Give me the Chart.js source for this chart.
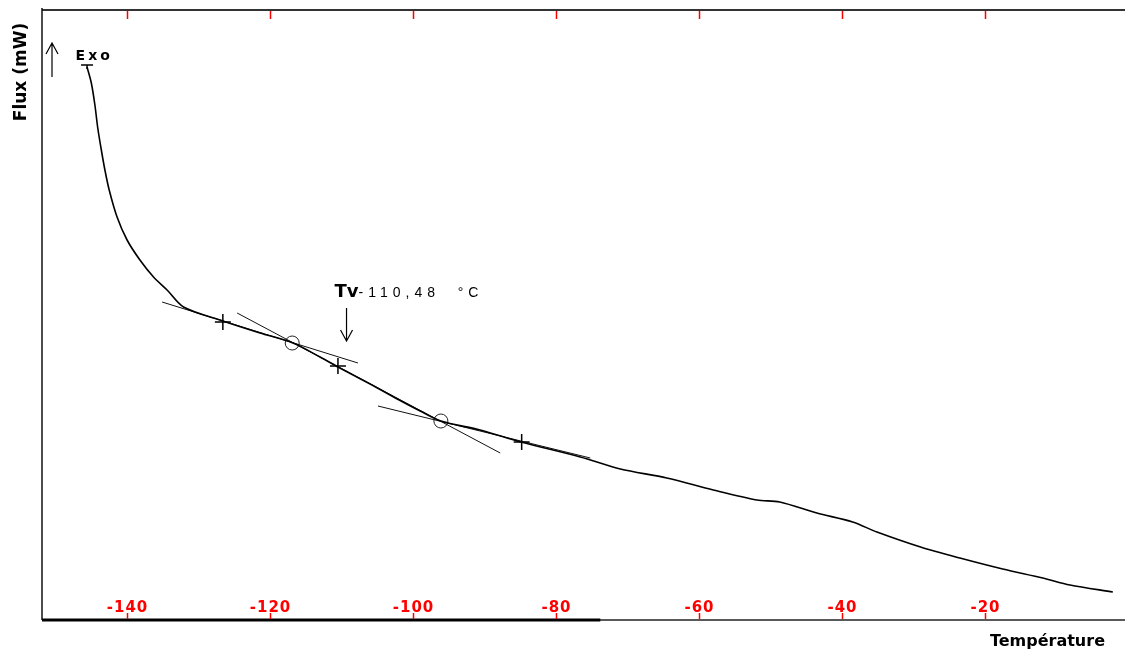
<!DOCTYPE html>
<html>
<head>
<meta charset="utf-8">
<script src="https://cdn.jsdelivr.net/npm/chart.js@4"></script>
<style>
  html, body { margin: 0; padding: 0; background: #fff; }
  canvas { display: block; }
</style>
</head>
<body>
<canvas id="dsc" width="1125" height="652"></canvas>
<script>
// courbe DSC : temperature (°C) et flux (unites arbitraires)
const temps = [-145.6, -145.0, -144.5, -144.1, -143.6, -143.1, -142.5, -141.4, -140.0, -138.2,
  -136.3, -134.4, -132.1, -126.6, -121.4, -116.8, -113.0, -110.5, -106.0, -102.2,
  -99.0, -96.1, -90.6, -84.9, -76.6, -71.0, -64.5, -58.0, -51.9, -48.7,
  -43.5, -38.5, -35.1, -29.0, -23.5, -17.5, -11.9, -8.1, -2.1];
const flux = [55.3, 53.7, 51.5, 49.2, 47.0, 45.0, 43.0, 40.3, 38.0, 36.0,
  34.3, 33.0, 31.3, 29.9, 28.7, 27.7, 26.3, 25.3, 23.6, 22.1,
  20.9, 19.9, 19.0, 17.8, 16.3, 15.1, 14.2, 13.0, 12.0, 11.8,
  10.7, 9.8, 8.8, 7.3, 6.2, 5.1, 4.2, 3.5, 2.8];

// graduations de l'axe des temperatures
const tickTemps = [-140, -120, -100, -80, -60, -40, -20];
const tickLabels = ['-140', '-120', '-100', '-80', '-60', '-40', '-20'];

// tangentes de la transition vitreuse
const tangenteBasseT = [-135.1, -107.7];
const tangenteBasseF = [31.8, 25.7];
const tangentePenteT = [-124.6, -87.8];
const tangentePenteF = [30.7, 16.7];
const tangenteHauteT = [-104.9, -75.2];
const tangenteHauteF = [21.4, 16.2];

// croix (debut, Tv, fin) et cercles (intersections)
const croixT = [-126.6, -110.5, -84.8];
const croixF = [29.8, 25.4, 17.8];
const cerclesT = [-116.9, -96.1];
const cerclesF = [27.7, 19.9];

const tv = -110.48;
const tvFleche = -109.3;
const exoFleche = -150.5;
const finTraitEpais = -73.8;

function pts(xs, ys) {
  return xs.map((v, i) => ({ x: v, y: ys[i] }));
}

function fleche(ctx, x, y1, y2, vers) {
  // vers = -1 : pointe en haut, 1 : pointe en bas
  ctx.beginPath();
  ctx.moveTo(x, y1);
  ctx.lineTo(x, y2);
  const tip = vers < 0 ? Math.min(y1, y2) : Math.max(y1, y2);
  ctx.moveTo(x - 6, tip - vers * 11);
  ctx.lineTo(x, tip);
  ctx.lineTo(x + 6, tip - vers * 11);
  ctx.stroke();
}

const decor = {
  id: 'decor',
  afterDraw(chart) {
    const { ctx, chartArea: a, scales: { x, y } } = chart;
    ctx.save();

    // cadre
    ctx.strokeStyle = '#333';
    ctx.lineWidth = 2;
    ctx.beginPath();
    ctx.moveTo(a.left, a.top);
    ctx.lineTo(a.right, a.top);
    ctx.stroke();
    ctx.lineWidth = 1.5;
    ctx.strokeStyle = '#111';
    ctx.beginPath();
    ctx.moveTo(a.left, a.top - 2);
    ctx.lineTo(a.left, a.bottom);
    ctx.stroke();
    ctx.strokeStyle = '#222';
    ctx.lineWidth = 1.5;
    ctx.beginPath();
    ctx.moveTo(a.left, a.bottom);
    ctx.lineTo(a.right, a.bottom);
    ctx.stroke();
    ctx.strokeStyle = '#000';
    ctx.lineWidth = 3;
    ctx.beginPath();
    ctx.moveTo(a.left, a.bottom);
    ctx.lineTo(x.getPixelForValue(finTraitEpais), a.bottom);
    ctx.stroke();

    // graduations rouges
    ctx.strokeStyle = '#ff0000';
    ctx.fillStyle = '#ff0000';
    ctx.lineWidth = 1.5;
    ctx.font = 'bold 15px "DejaVu Sans"';
    ctx.textAlign = 'center';
    ctx.textBaseline = 'alphabetic';
    ctx.letterSpacing = '1px';
    tickTemps.forEach((t, i) => {
      const px = Math.round(x.getPixelForValue(t)) + 0.5;
      ctx.beginPath();
      ctx.moveTo(px, a.top + 1);
      ctx.lineTo(px, a.top + 9);
      ctx.moveTo(px, a.bottom - 1);
      ctx.lineTo(px, a.bottom - 7);
      ctx.stroke();
      ctx.fillText(tickLabels[i], px, a.bottom - 8);
    });
    ctx.letterSpacing = '0px';

    // titres des axes
    ctx.fillStyle = '#000';
    ctx.font = 'bold 16px "DejaVu Sans"';
    ctx.textAlign = 'right';
    ctx.fillText('Température', 1105, a.bottom + 26);
    ctx.save();
    ctx.translate(a.left - 16, a.top + 62);
    ctx.rotate(-Math.PI / 2);
    ctx.textAlign = 'center';
    ctx.font = 'bold 17px "DejaVu Sans"';
    ctx.fillText('Flux (mW)', 0, 0);
    ctx.restore();

    // Exo
    ctx.strokeStyle = '#000';
    ctx.lineWidth = 1.2;
    fleche(ctx, x.getPixelForValue(exoFleche), y.getPixelForValue(57.7), y.getPixelForValue(54.3), -1);
    ctx.textAlign = 'left';
    ctx.font = 'bold 14px "DejaVu Sans"';
    ctx.letterSpacing = '3px';
    ctx.fillText('Exo', x.getPixelForValue(-147.2), y.getPixelForValue(56.0));
    ctx.letterSpacing = '0px';
    const x0 = x.getPixelForValue(temps[0]);
    const y0 = y.getPixelForValue(flux[0]);
    ctx.lineWidth = 1.5;
    ctx.beginPath();
    ctx.moveTo(x0 - 6, y0 - 2);
    ctx.lineTo(x0 + 6, y0 - 2);
    ctx.moveTo(x0, y0 - 2);
    ctx.lineTo(x0, y0 + 2);
    ctx.stroke();

    // Tv
    const xt = x.getPixelForValue(tvFleche);
    ctx.lineWidth = 1.2;
    fleche(ctx, xt, y.getPixelForValue(31.2), y.getPixelForValue(27.9), 1);
    ctx.font = 'bold 18px "DejaVu Sans"';
    ctx.fillText('Tv', xt - 12, y.getPixelForValue(32.3));
    ctx.font = '14px "Liberation Sans"';
    ctx.letterSpacing = '5px';
    ctx.fillText(tv.toFixed(2).replace('.', ',') + '  °C', xt + 12, y.getPixelForValue(32.3));
    ctx.restore();
  }
};

new Chart(document.getElementById('dsc'), {
  type: 'line',
  data: {
    datasets: [
      { data: pts(temps, flux), borderColor: '#000', borderWidth: 1.6, pointRadius: 0, tension: 0.3 },
      { data: pts(tangenteBasseT, tangenteBasseF), borderColor: '#111', borderWidth: 1, pointRadius: 0 },
      { data: pts(tangentePenteT, tangentePenteF), borderColor: '#111', borderWidth: 1, pointRadius: 0 },
      { data: pts(tangenteHauteT, tangenteHauteF), borderColor: '#111', borderWidth: 1, pointRadius: 0 },
      { data: pts(croixT, croixF), showLine: false, pointStyle: 'cross', pointRadius: 8, borderColor: '#000', borderWidth: 1.5 },
      { data: pts(cerclesT, cerclesF), showLine: false, pointStyle: 'circle', pointRadius: 7, borderColor: '#222', backgroundColor: 'rgba(0,0,0,0)', borderWidth: 1 }
    ]
  },
  options: {
    responsive: false,
    animation: false,
    layout: { autoPadding: false, padding: { left: 42, top: 10, right: 0, bottom: 32 } },
    plugins: { legend: { display: false }, tooltip: { enabled: false } },
    scales: {
      x: { type: 'linear', min: -151.9, max: -0.4, display: false },
      y: { min: 0, max: 61, display: false }
    }
  },
  plugins: [decor]
});
</script>
</body>
</html>
